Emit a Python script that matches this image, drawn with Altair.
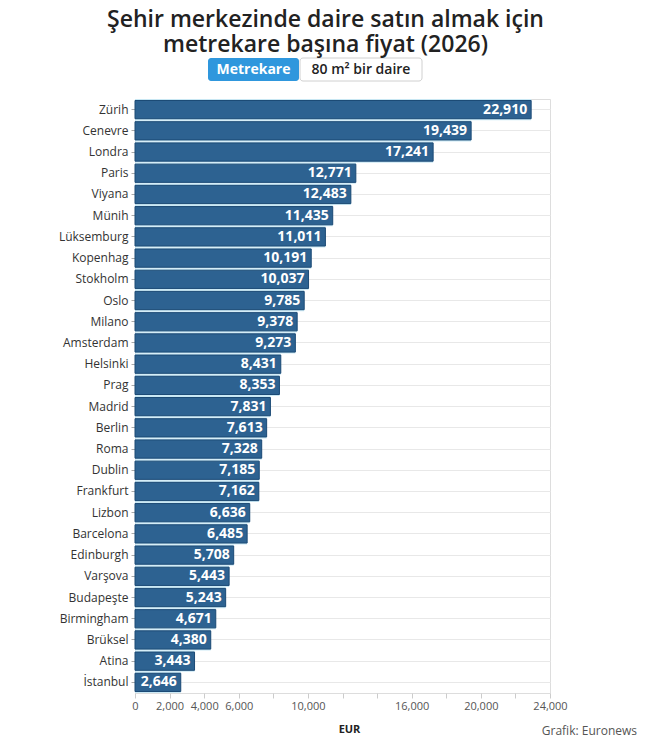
import altair as alt
import pandas as pd

cities = ["Zürih", "Cenevre", "Londra", "Paris", "Viyana", "Münih", "Lüksemburg",
          "Kopenhag", "Stokholm", "Oslo", "Milano", "Amsterdam", "Helsinki", "Prag",
          "Madrid", "Berlin", "Roma", "Dublin", "Frankfurt", "Lizbon", "Barcelona",
          "Edinburgh", "Varşova", "Budapeşte", "Birmingham", "Brüksel", "Atina", "İstanbul"]
prices = [22910, 19439, 17241, 12771, 12483, 11435, 11011, 10191, 10037, 9785, 9378,
          9273, 8431, 8353, 7831, 7613, 7328, 7185, 7162, 6636, 6485, 5708, 5443,
          5243, 4671, 4380, 3443, 2646]
tick_values = list(range(0, 24001, 2000))
shown_labels = [0, 2000, 4000, 6000, 10000, 16000, 20000, 24000]

df = pd.DataFrame({"city": cities, "price": prices})

FONT = "Open Sans"
W, H = 415, 594

label_expr = ("indexof(" + str(shown_labels) +
              ", datum.value) >= 0 ? format(datum.value, ',') : ''")

x_enc = alt.X("price:Q",
              scale=alt.Scale(domain=[0, 24000], nice=False),
              axis=alt.Axis(values=tick_values, labelExpr=label_expr,
                            labelOverlap=False, labelFlush=False,
                            grid=False, domain=False, tickColor="#cccccc", tickSize=5,
                            labelColor="#555555", labelFontSize=11, labelFont=FONT,
                            labelPadding=2,
                            title="EUR", titleFont=FONT, titleFontSize=11,
                            titleFontWeight="bold", titleColor="#222222",
                            titlePadding=12, titleX=214))
y_enc = alt.Y("city:N", sort=cities,
              scale=alt.Scale(paddingInner=0, paddingOuter=0),
              axis=alt.Axis(title=None, domain=False, grid=True, gridColor="#e8e8e8",
                            tickColor="#aaaaaa", tickSize=4, labelPadding=3,
                            labelFont=FONT, labelFontSize=12, labelColor="#333333"))

base = alt.Chart(df).encode(x=x_enc, y=y_enc)

back = base.mark_bar(color="#cbe9f5", height={"band": 1})
front = base.mark_bar(color="#2d6291", stroke="#1c4a75", strokeWidth=1,
                      height={"band": 0.86})
labels = base.mark_text(align="right", baseline="middle", dx=-4, color="white",
                        font=FONT, fontWeight="bold", fontSize=14).encode(
    text=alt.Text("price:Q", format=","))

btn_df = pd.DataFrame({"k": [0]})
btn1 = alt.Chart(btn_df).mark_rect(color="#2f97dd", cornerRadius=3).encode(
    x=alt.value(73), x2=alt.value(164), y=alt.value(-41), y2=alt.value(-18))
btn2 = alt.Chart(btn_df).mark_rect(fill="white", stroke="#d0d0d0", strokeWidth=1,
                                   cornerRadius=3).encode(
    x=alt.value(165), x2=alt.value(287), y=alt.value(-41), y2=alt.value(-18))
btn1t = alt.Chart(btn_df).mark_text(font=FONT, fontWeight="bold", fontSize=14,
                                    color="white").encode(
    x=alt.value(118.5), y=alt.value(-29), text=alt.value("Metrekare"))
btn2t = alt.Chart(btn_df).mark_text(font=FONT, fontWeight=600, fontSize=14,
                                    color="#222222").encode(
    x=alt.value(226), y=alt.value(-29), text=alt.value("80 m² bir daire"))
credit = alt.Chart(btn_df).mark_text(font=FONT, fontSize=12, color="#555555",
                                     align="right").encode(
    x=alt.value(502), y=alt.value(632), text=alt.value("Grafik: Euronews"))

chart = alt.layer(back, front, labels, btn1, btn2, btn1t, btn2t, credit).properties(
    width=W, height=H,
    title=alt.TitleParams(
        ["Şehir merkezinde daire satın almak için", "metrekare başına fiyat (2026)"],
        font=FONT, fontSize=23, fontWeight=600, color="#222222",
        anchor="middle", frame="group", dx=-17, offset=1, lineHeight=25),
    autosize=alt.AutoSizeParams(type="none"),
    padding={"left": 127, "top": 91, "right": 92, "bottom": 46},
).configure_view(strokeWidth=0).configure(background="white")

chart.save("out.html", embed_options={"renderer": "svg", "actions": False})
